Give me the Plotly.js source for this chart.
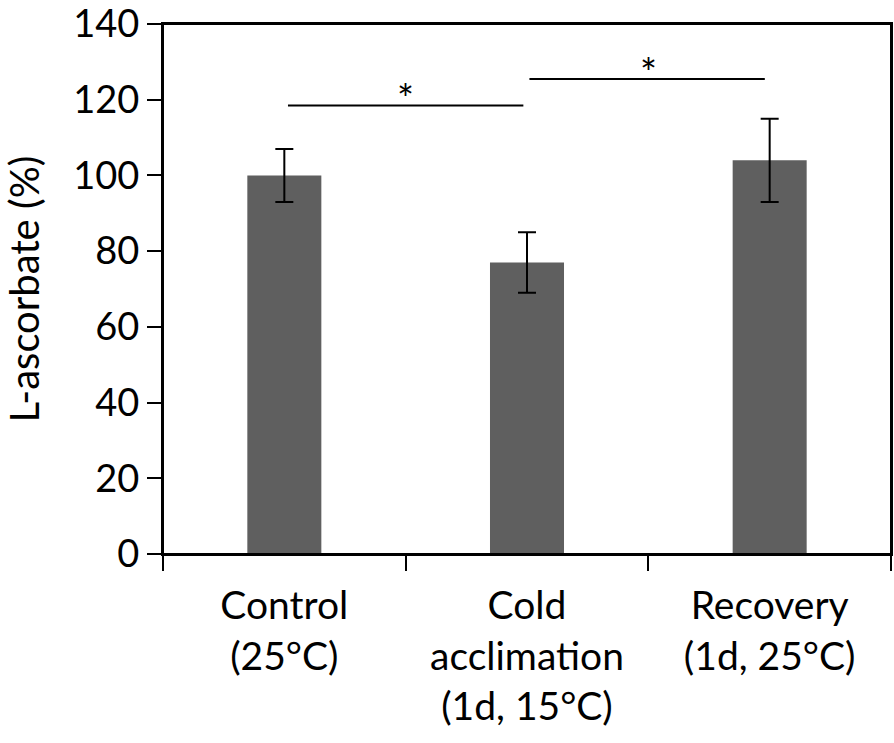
<!DOCTYPE html>
<html>
<head>
<meta charset="utf-8">
<script src="https://cdn.plot.ly/plotly-3.0.1.min.js"></script>
<style>html,body{margin:0;padding:0;background:#fff;}</style>
</head>
<body>
<div id="chart" style="width:894px;height:743px;"></div>
<script>
const categories = ["Control<br>(25°C)", "Cold<br>acclimation<br>(1d, 15°C)", "Recovery<br>(1d, 25°C)"];
const values = [100, 77, 104];
const errors = [7, 8, 11];
const yTicks = [0, 20, 40, 60, 80, 100, 120, 140];
const sigLevels = [118.5, 125.5];
const sigLabels = ["*", "*"];

const FONT = "Lato, 'Open Sans', sans-serif";

const trace = {
  type: "bar",
  x: categories,
  y: values,
  width: 0.305,
  marker: {color: "#5f5f5f"},
  error_y: {type: "data", array: errors, visible: true, color: "#000", thickness: 2, width: 9},
  hoverinfo: "none"
};

const shapes = [
  {type: "rect", xref: "paper", yref: "paper", x0: 0, x1: 1, y0: 0, y1: 1, line: {color: "#000", width: 2}},
  {type: "line", xref: "x", yref: "y", x0: 0.015, x1: 0.985, y0: sigLevels[0], y1: sigLevels[0], line: {color: "#000", width: 2}},
  {type: "line", xref: "x", yref: "y", x0: 1.01, x1: 1.98, y0: sigLevels[1], y1: sigLevels[1], line: {color: "#000", width: 2}}
];
const annotations = [
  {xref: "x", yref: "y", x: 0.5, y: sigLevels[0], text: sigLabels[0], showarrow: false, yanchor: "bottom", yshift: -20, font: {family: FONT, size: 40, color: "#000"}},
  {xref: "x", yref: "y", x: 1.5, y: sigLevels[1], text: sigLabels[1], showarrow: false, yanchor: "bottom", yshift: -20, font: {family: FONT, size: 40, color: "#000"}}
];

const layout = {
  width: 894, height: 743,
  margin: {l: 163, r: 3, t: 24, b: 189, pad: 0},
  showlegend: false,
  font: {family: FONT, color: "#000"},
  xaxis: {
    type: "category",
    range: [-0.5, 2.5],
    tickson: "boundaries",
    showline: true, linecolor: "#000", linewidth: 2, mirror: true,
    ticks: "outside", ticklen: 15, tickwidth: 2, tickcolor: "#000",
    tickfont: {family: FONT, size: 39, color: "#000"},
    ticklabelstandoff: 16,
    showgrid: false, zeroline: false
  },
  yaxis: {
    range: [0, 140],
    tickmode: "array", tickvals: yTicks,
    showline: true, linecolor: "#000", linewidth: 2, mirror: true,
    ticks: "outside", ticklen: 14, tickwidth: 2, tickcolor: "#000",
    tickfont: {family: FONT, size: 38, color: "#000"},
    ticklabeloverflow: "allow",
    title: {text: "L-ascorbate (%)", font: {family: FONT, size: 40, color: "#000"}, standoff: 24},
    showgrid: false, zeroline: false
  },
  shapes: shapes,
  annotations: annotations
};

Plotly.newPlot("chart", [trace], layout, {staticPlot: true});
</script>
</body>
</html>
